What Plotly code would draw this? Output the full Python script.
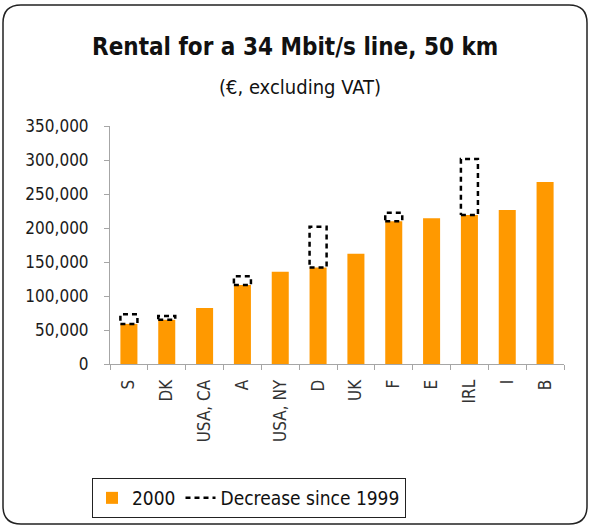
import plotly.graph_objects as go

categories = ["S", "DK", "USA, CA", "A", "USA, NY", "D", "UK", "F", "E", "IRL", "I", "B"]
values_2000 = [59000, 65000, 82500, 116000, 135500, 142000, 162000, 210000, 214500, 219000, 226500, 267500]
values_1999 = [73000, 70500, None, 129000, None, 202000, None, 222500, None, 301500, None, None]
y_ticks = [0, 50000, 100000, 150000, 200000, 250000, 300000, 350000]
y_ticktext = ["0", "50,000", "100,000", "150,000", "200,000", "250,000", "300,000", "350,000"]

ORANGE = "#FF9900"
FONT = "Liberation Sans Narrow, Arial Narrow, DejaVu Sans Condensed, Liberation Sans, Arial, sans-serif"
BAR_W = 0.45

idx = list(range(len(categories)))

fig = go.Figure()
fig.add_trace(go.Bar(
    x=idx, y=values_2000, width=BAR_W, marker=dict(color=ORANGE, line=dict(width=0)),
    name="2000",
))

first = True
for i, (a, b) in enumerate(zip(values_2000, values_1999)):
    if b is None:
        continue
    h = BAR_W / 2
    fig.add_trace(go.Scatter(
        x=[i - h, i + h, i + h, i - h, i - h],
        y=[a, a, b, b, a],
        mode="lines",
        line=dict(color="black", width=2.5, dash="5px,4px"),
        name="Decrease since 1999",
        legendgroup="dec",
        showlegend=first,
        hoverinfo="skip",
    ))
    first = False

# plot-area geometry (pixels) for paper-coordinate decorations
L, R, T, B = 110, 26, 126, 163
W, H = 590, 527
pw, ph = W - L - R, H - T - B

def px(xp):
    return (xp - L) / pw

def py(yp):
    return (H - B - yp) / ph

# rounded border
x0, x1, y0, y1 = 3, 587, 5, 524
r = 18
path = (
    f"M {px(x0 + r)},{py(y0)} L {px(x1 - r)},{py(y0)} Q {px(x1)},{py(y0)} {px(x1)},{py(y0 + r)} "
    f"L {px(x1)},{py(y1 - r)} Q {px(x1)},{py(y1)} {px(x1 - r)},{py(y1)} "
    f"L {px(x0 + r)},{py(y1)} Q {px(x0)},{py(y1)} {px(x0)},{py(y1 - r)} "
    f"L {px(x0)},{py(y0 + r)} Q {px(x0)},{py(y0)} {px(x0 + r)},{py(y0)} Z"
)

fig.update_layout(
    width=W, height=H,
    margin=dict(l=L, r=R, t=T, b=B, autoexpand=False),
    paper_bgcolor="white", plot_bgcolor="white",
    font=dict(family=FONT, color="#1a1a1a"),
    showlegend=True,
    legend=dict(
        orientation="h", x=px(92), y=py(478), xanchor="left", yanchor="top",
        bordercolor="#222", borderwidth=1, font=dict(size=19, family=FONT, color="#111"),
        itemwidth=30, bgcolor="white",
    ),
    xaxis=dict(
        range=[-0.5, len(categories) - 0.5],
        tickvals=idx, ticktext=categories, tickangle=-90,
        ticks="", showgrid=False, zeroline=False, automargin=False,
        ticklabelstandoff=8,
        showline=True, linecolor="#a6a6a6", linewidth=1,
        tickfont=dict(size=17, color="#333", family=FONT),
        minor=dict(tickmode="linear", tick0=-0.5, dtick=1, ticks="outside", ticklen=5,
                   tickcolor="#a6a6a6", showgrid=False),
        fixedrange=True,
    ),
    yaxis=dict(
        range=[0, 350000], tickvals=y_ticks, ticktext=y_ticktext,
        ticks="outside", ticklen=5, tickcolor="#a6a6a6",
        ticklabelstandoff=12,
        showgrid=False, zeroline=False, automargin=False,
        showline=True, linecolor="#a6a6a6", linewidth=1,
        tickfont=dict(size=17, color="#1a1a1a", family=FONT),
        fixedrange=True,
    ),
    shapes=[dict(type="path", path=path, xref="paper", yref="paper",
                 line=dict(color="#222", width=1.5), fillcolor="rgba(0,0,0,0)", layer="below")],
    annotations=[
        dict(text="<b>Rental for a 34 Mbit/s line, 50 km</b>", xref="paper", yref="paper",
             x=px(295), y=py(47), xanchor="center", yanchor="middle", showarrow=False,
             font=dict(size=24, family=FONT, color="#111")),
        dict(text="(€, excluding VAT)", xref="paper", yref="paper",
             x=px(300), y=py(87), xanchor="center", yanchor="middle", showarrow=False,
             font=dict(size=20, family=FONT, color="#111")),
    ],
)

fig.write_html("out.html", config={"displayModeBar": False},
               post_script="document.body.style.margin='0';document.body.style.overflow='hidden';")
